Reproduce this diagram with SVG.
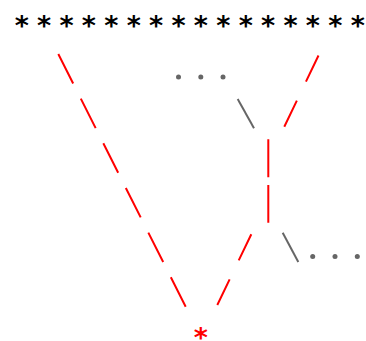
<svg xmlns="http://www.w3.org/2000/svg" width="366" height="341" viewBox="0 0 366 341">
<style>
.star{font-family:"DejaVu Sans",sans-serif;font-size:27px;font-weight:bold;text-anchor:middle}
.red{stroke:#ff0000;stroke-width:2;fill:none}
.gray{stroke:#666666;stroke-width:2;fill:none}
.dot{fill:#666666}
</style>
<rect width="366" height="341" fill="#ffffff"/>
<g id="top">
<text class="star" y="35">
<tspan x="21.7">*</tspan><tspan x="44.1">*</tspan><tspan x="66.5">*</tspan><tspan x="88.9">*</tspan><tspan x="111.3">*</tspan><tspan x="133.7">*</tspan><tspan x="156.1">*</tspan><tspan x="178.5">*</tspan><tspan x="200.9">*</tspan><tspan x="223.3">*</tspan><tspan x="245.7">*</tspan><tspan x="268.1">*</tspan><tspan x="290.5">*</tspan><tspan x="312.9">*</tspan><tspan x="335.3">*</tspan><tspan x="357.7">*</tspan>
</text>
</g>
<g id="bottom">
<text class="star" x="200.8" y="346.5" fill="#ff0000">*</text>
</g>
<g id="dots1">
<circle class="dot" cx="178.5" cy="77" r="2.5"/><circle class="dot" cx="200.8" cy="77" r="2.5"/><circle class="dot" cx="223" cy="77" r="2.5"/>
</g>
<g id="dots2">
<circle class="dot" cx="312.7" cy="256.5" r="2.5"/><circle class="dot" cx="335" cy="256.5" r="2.5"/><circle class="dot" cx="357.3" cy="256.5" r="2.5"/>
</g>
<g id="connectors">
<line class="red" x1="58.3" y1="54" x2="185.7" y2="306.7" stroke-dasharray="33 17"/>
<line class="red" x1="318.5" y1="55.5" x2="284.3" y2="126.7" stroke-dasharray="29 21"/>
<line class="red" x1="268.3" y1="139.3" x2="268.3" y2="222.7" stroke-dasharray="38 7.7"/>
<line class="red" x1="251.3" y1="234.3" x2="217.3" y2="305" stroke-dasharray="29 21"/>
<line class="gray" x1="237.7" y1="99" x2="254" y2="128.3"/>
<line class="gray" x1="282.7" y1="232.7" x2="298.3" y2="262"/>
</g>
</svg>
